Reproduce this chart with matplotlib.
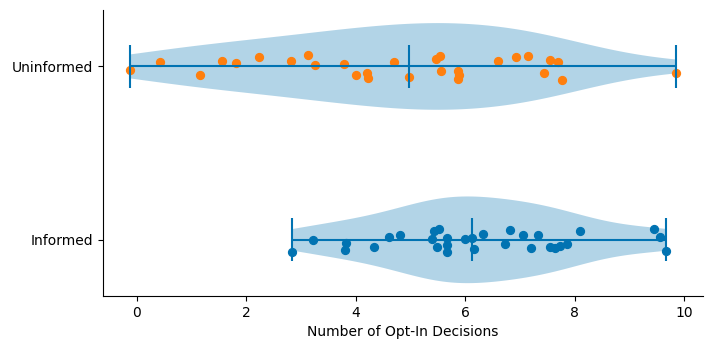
import numpy as np
import matplotlib
matplotlib.use("Agg")
import matplotlib.pyplot as plt

# opt-in decisions per participant (jittered values as plotted)
uninformed_x = [-0.12, 0.42, 1.15, 1.55, 1.81, 2.23, 2.82, 3.13, 3.25, 3.79,
                4.00, 4.20, 4.22, 4.69, 4.97, 5.47, 5.53, 5.55, 5.87, 5.87,
                5.89, 6.59, 6.93, 7.15, 7.55, 7.69, 7.44, 7.76, 9.84]
uninformed_dy = [-0.023, 0.027, -0.052, 0.033, 0.021, 0.056, 0.033, 0.064, 0.008, 0.016,
                 -0.052, -0.040, -0.064, 0.023, -0.062, 0.045, 0.058, -0.029, -0.029, -0.073,
                 -0.052, 0.029, 0.056, 0.062, 0.040, 0.023, -0.040, -0.077, -0.040]

informed_x = [2.83, 3.21, 3.82, 3.80, 4.33, 4.61, 4.80, 5.42, 5.51, 5.40,
              5.67, 5.48, 5.67, 5.67, 6.00, 6.13, 6.15, 6.32, 6.73, 6.81,
              7.06, 7.33, 7.20, 7.55, 7.64, 7.73, 7.86, 8.09, 9.45, 9.56, 9.66]
informed_dy = [-0.073, 0.0, -0.016, -0.060, -0.039, 0.016, 0.029, 0.048, 0.062, 0.006,
               0.013, -0.042, -0.029, -0.073, 0.006, 0.013, -0.054, 0.036, -0.025, 0.054,
               0.025, 0.025, -0.048, -0.042, -0.048, -0.035, -0.025, 0.048, 0.064, 0.016, -0.064]

groups = ["Informed", "Uninformed"]
positions = [1, 2]
blue = "#0173B2"
orange = "#FF7F0E"

fig, ax = plt.subplots(figsize=(7.1, 3.48), dpi=100)
fig.subplots_adjust(left=0.145, right=0.99, top=0.971, bottom=0.149)

parts = ax.violinplot([informed_x, uninformed_x], positions=positions,
                      orientation="horizontal", showmedians=True)
for body in parts["bodies"]:
    body.set_facecolor(blue)
    body.set_edgecolor("none")
    body.set_alpha(0.3)
for key in ["cbars", "cmins", "cmaxes", "cmedians"]:
    parts[key].set_color(blue)

ax.scatter(informed_x, np.array(informed_dy) + positions[0], s=32, color=blue)
ax.scatter(uninformed_x, np.array(uninformed_dy) + positions[1], s=32, color=orange)

ax.set_yticks(positions)
ax.set_yticklabels(groups)
ax.set_xlabel("Number of Opt-In Decisions")
ax.spines["top"].set_visible(False)
ax.spines["right"].set_visible(False)

fig.savefig("out.png")
